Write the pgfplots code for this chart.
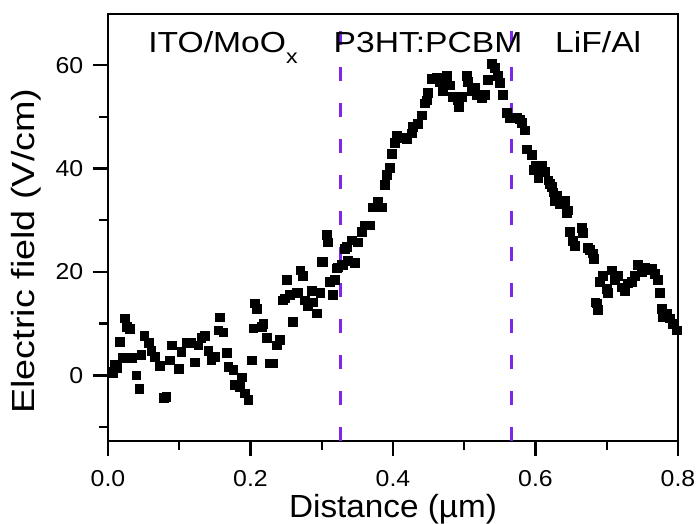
\documentclass[border=0pt]{standalone}
\usepackage{fontspec}
\setmainfont{Liberation Sans}
\usepackage{pgfplots}
\pgfplotsset{compat=1.18}
\definecolor{dashpurple}{RGB}{125,40,230}
\begin{document}
\begin{tikzpicture}
\useasboundingbox (-54pt,-41.5pt) rectangle (294pt,220.5pt);
\begin{axis}[
  scale only axis, width=285pt, height=213.5pt,
  xmin=0, xmax=0.8, ymin=-12.7, ymax=69.9,
  axis line style={line width=1.2pt},
  xtick={0,0.2,0.4,0.6,0.8}, ytick={0,20,40,60},
  minor xtick={0.1,0.3,0.5,0.7}, minor ytick={-10,10,30,50},
  tick align=outside, tick pos=left,
  major tick length=7.5pt, minor tick length=4.5pt,
  tick style={black, line width=1.2pt},
  /pgf/number format/assume math mode=true,
  tick label style={font=\fontsize{11.5}{13}\selectfont, xscale=1.08},
  xticklabel style={yshift=-3.5pt, /pgf/number format/.cd, fixed, fixed zerofill, precision=1},
  yticklabel style={xshift=-1pt},
  xlabel={Distance (µm)}, ylabel={Electric field (V/cm)},
  label style={font=\fontsize{16}{18}\selectfont},
  xlabel style={at={(axis description cs:0.5,0)}, anchor=north, yshift=-26.5pt, inner sep=0pt, xscale=1.04},
  ylabel style={at={([xshift=-36.5pt]axis description cs:0,0.445)}, anchor=base, inner sep=0pt, xscale=1.18},
]
\addplot[dashpurple, line width=1.5pt, dash pattern=on 7pt off 11pt] coordinates {(0.326,-12.7) (0.326,69.9)};
\addplot[dashpurple, line width=1.5pt, dash pattern=on 7pt off 11pt] coordinates {(0.566,-12.7) (0.566,69.9)};
\addplot[only marks, mark=square*, mark size=2.2pt, black] table {
x y
0.005 0.6
0.007 0.4
0.010 2.0
0.013 1.5
0.017 6.4
0.021 3.3
0.024 11.0
0.026 9.3
0.031 9.0
0.033 3.3
0.040 0.0
0.044 -2.6
0.047 3.9
0.051 7.7
0.057 6.2
0.061 4.8
0.066 3.5
0.073 1.9
0.078 -4.3
0.082 -4.2
0.087 2.9
0.090 5.8
0.099 1.3
0.103 4.5
0.110 6.2
0.117 6.2
0.122 2.5
0.127 5.8
0.131 7.2
0.136 7.7
0.141 4.8
0.145 2.9
0.150 3.5
0.155 8.7
0.157 11.2
0.162 8.3
0.167 4.3
0.169 1.6
0.176 1.0
0.178 -1.9
0.185 -2.3
0.188 -0.4
0.192 -3.5
0.197 -4.8
0.202 2.9
0.204 9.1
0.206 13.9
0.209 12.9
0.216 9.3
0.218 10.0
0.223 7.2
0.227 2.3
0.232 2.3
0.237 5.8
0.241 6.8
0.246 14.5
0.248 14.9
0.251 18.4
0.255 15.5
0.260 10.3
0.265 15.9
0.267 16.0
0.270 20.3
0.274 19.3
0.276 14.5
0.281 13.5
0.286 16.4
0.288 14.1
0.293 12.0
0.298 15.9
0.300 21.9
0.302 22.0
0.307 27.1
0.309 25.7
0.312 18.0
0.316 15.5
0.319 18.4
0.321 20.7
0.323 20.9
0.328 21.3
0.330 21.3
0.333 24.5
0.335 24.8
0.337 22.2
0.342 26.1
0.347 21.7
0.351 25.7
0.356 27.7
0.361 29.0
0.368 29.0
0.372 32.5
0.379 33.5
0.385 32.5
0.389 36.8
0.392 38.7
0.396 40.2
0.399 42.9
0.403 44.9
0.406 46.4
0.413 46.0
0.420 45.8
0.427 46.8
0.428 48.0
0.435 48.7
0.441 50.3
0.445 52.6
0.448 53.2
0.449 54.7
0.455 57.4
0.462 57.6
0.466 56.7
0.470 55.1
0.476 58.0
0.480 56.1
0.484 53.8
0.491 53.2
0.493 52.0
0.497 53.8
0.504 58.0
0.505 56.7
0.511 55.1
0.515 55.7
0.518 54.2
0.525 53.6
0.529 54.2
0.533 57.1
0.539 60.3
0.543 59.4
0.547 58.0
0.550 56.5
0.554 54.2
0.560 50.7
0.564 49.8
0.574 49.9
0.578 49.5
0.581 48.8
0.585 47.4
0.588 43.7
0.595 42.7
0.597 39.7
0.600 40.6
0.604 38.1
0.606 39.7
0.609 40.6
0.613 39.3
0.618 37.7
0.620 37.1
0.623 36.4
0.625 35.4
0.627 33.8
0.630 34.8
0.634 33.2
0.639 33.5
0.641 33.8
0.644 31.5
0.646 31.9
0.648 27.8
0.653 26.0
0.655 25.0
0.665 28.6
0.667 27.5
0.674 24.6
0.676 24.2
0.681 23.6
0.682 22.6
0.684 14.1
0.686 13.9
0.688 12.6
0.690 18.0
0.695 19.3
0.700 16.8
0.702 15.9
0.707 20.3
0.712 18.4
0.716 19.3
0.721 17.0
0.726 16.4
0.730 17.8
0.735 18.0
0.740 19.3
0.744 21.3
0.749 19.9
0.754 20.9
0.758 20.3
0.763 20.7
0.768 19.7
0.772 18.4
0.775 15.9
0.777 12.9
0.779 11.2
0.785 12.0
0.789 11.0
0.793 10.0
0.798 8.7
};
\node[anchor=base west, inner sep=0pt, font=\fontsize{14.5}{16}\selectfont, xscale=1.16] at (axis cs:0.056,62.5) {ITO/MoO\raisebox{-5.5pt}{\fontsize{10}{12}\selectfont x}};
\node[anchor=base west, inner sep=0pt, font=\fontsize{14.5}{16}\selectfont, xscale=1.16] at (axis cs:0.316,62.5) {P3HT:PCBM};
\node[anchor=base west, inner sep=0pt, font=\fontsize{14.5}{16}\selectfont, xscale=1.16] at (axis cs:0.627,62.5) {LiF/Al};
\end{axis}
\end{tikzpicture}
\end{document}
